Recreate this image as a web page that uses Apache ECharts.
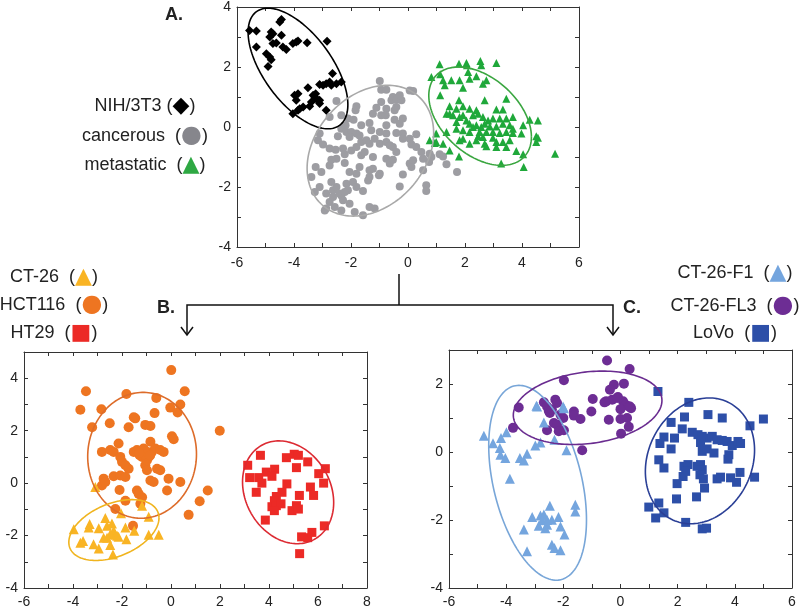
<!DOCTYPE html>
<html>
<head>
<meta charset="utf-8">
<script src="https://cdn.jsdelivr.net/npm/echarts@6/dist/echarts.min.js"></script>
<style>html,body{margin:0;padding:0;background:#fff}#c{width:800px;height:610px}</style>
</head>
<body>
<div id="c"></div>
<script>
// ---------- Panel A data ----------
const nih3t3 = [[-5.56,3.22],[-5.32,3.2],[-4.44,3.58],[-4.5,3.5],[-4.8,3.17],[-4.74,3.11],[-4.85,3.0],[-4.44,3.06],[-5.32,2.67],[-4.74,2.78],[-4.62,2.8],[-4.39,2.67],[-4.27,2.58],[-4.04,2.78],[-3.92,2.83],[-3.86,2.87],[-3.54,2.81],[-2.84,2.86],[-4.97,2.44],[-4.85,2.33],[-4.8,2.24],[-4.91,2.02],[-2.65,1.78],[-2.34,1.5],[-2.87,1.44],[-2.75,1.5],[-3.1,1.42],[-2.98,1.39],[-3.51,1.31],[-3.98,1.06],[-3.86,1.11],[-3.33,1.06],[-3.27,1.0],[-3.19,0.91],[-3.1,0.89],[-3.39,0.83],[-3.1,0.78],[-3.68,0.67],[-4.04,0.44],[-2.87,0.56],[-3.86,0.56],[-3.8,0.61],[-3.45,0.69],[-2.69,1.39],[-2.51,1.44],[-3.92,0.89],[-3.24,1.11]];
const cancerous = [[-0.99,1.53],[-0.94,1.24],[-0.76,1.24],[0.06,1.22],[0.18,1.2],[-0.53,1.0],[-0.58,0.89],[-0.41,0.91],[-2.51,0.87],[-1.81,0.69],[-1.11,0.64],[-0.76,0.61],[-0.41,0.67],[-0.47,0.56],[-2.75,0.33],[-2.34,0.39],[-2.11,0.28],[-1.91,0.24],[-1.84,0.56],[-1.23,0.44],[-0.94,0.39],[-0.78,0.39],[-0.47,0.24],[-0.29,0.11],[-0.18,0.28],[-0.76,0.06],[-1.35,0.13],[-1.64,0.06],[-2.19,0.06],[-2.34,-0.06],[-2.16,-0.17],[-1.99,-0.17],[-1.81,-0.22],[-1.7,-0.28],[-2.05,-0.33],[-2.46,-0.31],[-3.1,-0.22],[-3.16,-0.44],[-2.98,-0.58],[-2.75,-0.72],[-2.54,-0.76],[-2.28,-0.72],[-2.22,-0.91],[-1.99,-0.78],[-1.81,-0.67],[-1.64,-0.5],[-1.46,-0.44],[-1.35,-0.56],[-1.17,-0.39],[-0.99,-0.56],[-0.76,-0.5],[-0.64,-0.61],[-0.53,-0.67],[-0.41,-0.2],[-0.18,-0.22],[-0.18,-0.39],[0.12,-0.58],[0.29,-0.67],[0.47,-0.83],[0.76,-0.89],[0.82,-1.0],[0.74,-1.17],[0.53,-1.06],[1.11,-0.91],[1.23,-0.98],[1.35,-1.24],[1.72,-1.5],[0.06,-1.22],[0.12,-1.33],[-0.76,-1.06],[-0.64,-1.22],[-0.53,-1.09],[-0.99,-1.56],[-1.35,-1.44],[-1.23,-1.39],[-1.7,-1.33],[-1.81,-1.56],[-2.05,-1.5],[-2.22,-1.2],[-2.51,-1.06],[-2.75,-1.28],[-2.69,-1.09],[-3.24,-1.33],[-3.04,-1.5],[-3.39,-1.67],[-3.27,-2.17],[-2.87,-2.22],[-2.63,-2.11],[-2.51,-2.0],[-2.16,-1.89],[-2.11,-2.11],[-1.93,-1.83],[-1.81,-2.0],[-1.58,-2.13],[-1.35,-1.67],[-1.4,-1.78],[-1.02,-1.61],[-0.29,-1.98],[-0.18,-1.58],[0.64,-1.94],[0.64,-2.13],[0.53,-1.44],[-2.75,-2.5],[-2.87,-2.72],[-2.92,-2.78],[-2.57,-2.67],[-2.34,-2.78],[-2.05,-2.56],[-2.28,-2.44],[-2.34,-2.28],[-2.63,-2.33],[-2.4,-2.22],[-2.22,-2.17],[-1.87,-2.83],[-1.58,-2.94],[-1.35,-2.67],[-1.17,-2.72],[-2.69,-1.83],[-1.64,-0.94],[-1.52,-0.83],[-1.23,-1.0],[-3.1,-2.0],[-0.41,-0.83],[-0.76,-0.22],[-0.99,-0.17],[0.06,-0.39],[0.18,-1.11],[-0.94,0.83],[-0.23,0.89],[-0.29,1.06],[0.29,-0.24],[-1.29,-0.11]];
const metastatic = [[1.11,2.09],[1.79,2.11],[2.05,2.13],[2.07,2.06],[2.54,2.2],[2.57,2.06],[3.1,2.13],[0.82,1.67],[1.13,1.76],[1.23,1.56],[1.29,1.39],[1.13,1.06],[1.52,1.56],[1.81,1.56],[2.11,1.83],[2.16,1.61],[2.4,1.69],[2.75,1.56],[2.63,1.44],[1.93,1.31],[2.69,0.89],[3.45,0.94],[3.1,0.58],[3.33,0.58],[1.79,0.89],[1.93,0.69],[2.16,0.61],[2.4,0.56],[1.35,0.44],[1.46,0.44],[1.58,0.39],[1.81,0.33],[1.93,0.39],[2.05,0.22],[2.28,0.39],[2.46,0.44],[2.63,0.33],[2.81,0.22],[2.98,0.28],[3.22,0.28],[3.45,0.28],[3.68,0.33],[1.7,0.17],[2.16,0.11],[2.4,0.06],[2.57,0],[2.69,0.11],[2.87,0.02],[3.1,0.02],[3.33,0.11],[3.57,0.06],[3.68,-0.06],[4.04,0.06],[4.27,0.24],[4.56,0.22],[0.99,-0.22],[1.35,-0.17],[1.7,-0.06],[1.93,-0.11],[2.16,-0.17],[2.28,0],[2.51,-0.17],[2.75,-0.17],[2.98,-0.17],[3.22,-0.2],[3.45,-0.17],[3.68,-0.2],[3.98,-0.22],[4.5,-0.31],[0.94,-0.53],[1.23,-0.56],[1.46,-0.78],[1.81,-0.44],[1.93,-0.39],[2.16,-0.56],[2.4,-0.44],[2.69,-0.56],[2.75,-0.64],[2.98,-0.36],[3.1,-0.5],[3.33,-0.5],[3.57,-0.44],[3.8,-0.8],[4.04,-0.91],[4.5,-0.5],[4.56,-0.36],[5.16,-0.89],[1.79,-0.98],[3.27,-1.22],[4.06,-1.33],[0.76,-0.44],[0.99,-0.5],[1.46,0.69],[1.7,0.61],[2.46,-0.31],[2.63,-0.33],[3.1,-0.67],[3.45,-0.67]];
// ellipse parameters: [centerX, centerY, halfWidthX, halfHeightY, correlation]
const ellipsesA = [[-3.86,1.95,1.75,2.01,-0.6],[-1.32,-0.79,2.22,2.18,0.27],[2.53,0.36,1.80,1.64,-0.42]];

// ---------- Panel B data ----------
const ct26 = [[-3.97,-1.76],[-3.32,-1.56],[-3.36,-1.69],[-2.95,-1.72],[-2.68,-1.33],[-2.61,-1.63],[-2.41,-1.54],[-2.34,-1.82],[-2.27,-1.97],[-2.14,-2.05],[-2.48,-1.95],[-2.61,-2.08],[-3.59,-2.21],[-3.7,-2.27],[-3.16,-2.33],[-2.95,-2.49],[-2.48,-2.36],[-2.37,-2.72],[-1.86,-1.69],[-1.82,-2.14],[-1.5,-1.82],[-0.91,-1.97],[-0.5,-1.97],[-0.91,-1.28],[-2.04,-1.15],[-1.18,-0.86],[-3.09,-0.15],[-2.2,-2.01],[-2.75,-2.08]];
const hct116 = [[0.01,4.31],[-3.47,3.5],[-1.82,3.4],[-0.6,3.25],[0.56,3.5],[-3.7,2.8],[-2.84,2.82],[-0.03,2.88],[0.38,3.0],[-0.67,2.67],[0.27,2.69],[-1.46,2.47],[-1.52,2.51],[-3.22,2.13],[-2.5,2.28],[-1.73,2.13],[-1.05,2.22],[-0.84,2.18],[1.99,2.0],[0.04,1.79],[0.11,1.67],[-0.84,1.58],[-2.14,1.51],[-2.82,1.19],[-2.48,1.26],[-2.34,1.19],[-2.07,1.0],[-2.0,0.81],[-1.86,0.68],[-1.73,0.55],[-1.52,1.19],[-1.39,1.26],[-1.25,1.19],[-1.12,1.32],[-0.98,1.13],[-1.18,1.0],[-0.91,1.0],[-0.78,1.19],[-0.64,1.32],[-0.44,1.26],[-0.3,1.19],[-1.05,0.68],[-0.98,0.49],[-0.57,0.55],[-0.44,0.49],[-1.28,1.06],[-0.98,0.87],[-2.34,0.26],[-2.75,0.17],[-2.82,-0.09],[-2.68,0.04],[-2.07,0.29],[-1.86,0.23],[-0.84,0.1],[-0.71,0.04],[-0.1,0.17],[0.38,0.04],[-0.16,-0.28],[-2.1,-0.26],[-1.86,-0.67],[-1.39,-0.28],[-1.32,-0.41],[-1.18,-0.54],[-1.25,-0.79],[-2.27,-0.99],[1.17,-0.69],[1.5,-0.28],[0.72,-1.21],[-1.55,-1.63],[-1.1,1.1],[-1.0,1.2],[-1.3,1.15],[-0.85,1.05]];
const ht29 = [[3.13,0.68],[3.21,0.21],[3.65,1.06],[3.58,0.21],[3.71,0],[3.48,-0.35],[3.89,0.42],[4.23,0.53],[4.12,0.26],[4.71,0.97],[5.03,1.1],[5.2,1.06],[5.12,0.59],[5.58,0.81],[6.03,0.36],[6.3,0.55],[6.23,0],[4.73,-0.03],[4.53,-0.35],[4.3,-0.51],[4.22,-0.67],[4.12,-0.9],[4.3,-0.86],[4.49,-0.79],[4.22,-1.05],[4.94,-1.05],[5.12,-0.86],[5.2,-0.99],[5.24,-0.47],[5.69,-0.15],[5.82,-0.47],[3.85,-1.41],[6.26,-1.63],[5.33,-2.05],[5.58,-2.08],[5.75,-1.88],[5.25,-2.69]];
const ellipsesB = [[-1.18,1.06,2.22,2.40,0.02],[-2.33,-1.79,1.84,1.16,0.40],[4.78,-0.35,1.86,1.96,-0.20]];

// ---------- Panel C data ----------
const ct26f1 = [[-4.78,0.48],[-4.46,0.26],[-4.22,0.12],[-4.18,0.41],[-3.99,0.58],[-4.2,-0.08],[-4.03,-0.18],[-3.52,-0.18],[-3.38,-0.25],[-3.27,-0.05],[-2.98,0.19],[-2.8,0.28],[-2.31,0.36],[-1.89,0.05],[-3.87,-0.79],[-2.94,1.36],[-2.68,0.87],[-2.01,1.34],[-2.92,1.34],[-1.98,1.29],[-2.47,-1.58],[-3.09,-1.91],[-2.8,-1.87],[-2.68,-1.84],[-2.74,-2.01],[-2.86,-2.17],[-2.57,-2.14],[-2.63,-2.24],[-2.4,-1.99],[-2.17,-1.91],[-2.1,-2.19],[-1.96,-2.43],[-3.38,-2.28],[-3.27,-2.92],[-2.4,-2.73],[-2.31,-2.82],[-2.1,-2.89],[-1.58,-1.55],[-1.58,-1.75],[-2.57,-2.0]];
const ct26fl3 = [[-0.47,2.69],[0.32,2.44],[-1.98,2.11],[-0.23,1.98],[0.12,2.01],[-0.37,1.83],[-0.09,1.62],[-0.5,1.49],[-0.29,1.54],[0.09,1.49],[0.18,1.39],[0,1.26],[0.29,1.34],[0.37,1.29],[-0.97,1.56],[-1.02,1.19],[-2.28,1.54],[-2.22,1.44],[-2.68,1.46],[-2.57,1.34],[-2.51,1.21],[-3.56,1.31],[-1.63,1.19],[-3.76,0.71],[-2.47,1.15],[-2.57,0.64],[-2.33,0.85],[-2.22,0.8],[-2.1,1.1],[-2.16,0.61],[-1.98,0.64],[-1.63,1.07],[-1.4,0.97],[-0.56,1.46],[-0.12,1.59],[0.33,1.34],[-0.41,0.95],[0,0.97],[0.23,1.0],[0.29,0.74],[0.02,0.54],[-1.34,0.05],[-2.4,1.25],[-2.0,1.0]];
const lovo = [[1.31,1.78],[2.39,1.46],[2.24,1.03],[3.06,1.1],[3.56,1.0],[4.53,0.77],[5.0,0.97],[1.77,0.87],[2.16,0.68],[2.51,0.58],[1.52,0.44],[1.89,0.41],[1.38,0.25],[1.77,0.09],[2.71,0.51],[2.86,0.46],[3.03,0.41],[3.21,0.46],[3.38,0.36],[3.56,0.34],[3.73,0.31],[3.91,0.19],[4.11,0.31],[4.2,0.25],[2.8,0.28],[2.86,0.02],[3.03,0.09],[3.27,-0.03],[3.79,-0.08],[3.76,-0.21],[1.34,-0.23],[1.52,-0.47],[2.22,-0.42],[2.36,-0.37],[2.28,-0.57],[2.19,-0.72],[1.98,-0.93],[2.68,-0.42],[2.8,-0.37],[2.86,-0.52],[2.78,-0.67],[2.9,-0.79],[2.94,-1.06],[3.38,-0.79],[3.5,-0.74],[3.85,-0.76],[4.06,-0.89],[4.18,-0.6],[4.69,-0.74],[0.99,-1.62],[1.34,-1.5],[1.23,-1.94],[1.52,-1.79],[1.96,-1.38],[2.66,-1.32],[2.28,-2.07],[2.86,-2.26],[3.01,-2.24]];
const ellipsesC = [[-2.9,-0.905,1.71,2.865,-0.38],[-1.15,1.3,2.6,1.08,0.2],[2.78,-0.26,1.91,1.85,0.17]];

// axis ranges [xmin, xmax, ymin, ymax]
const rangeA = [-6, 6, -4, 4];
const rangeB = [-6, 8, -4, 5];
const rangeC = [-6, 6, -4, 3];

// legend labels
const labelsA = ['NIH/3T3 ', 'cancerous  ', 'metastatic  '];
const labelsB = ['CT-26  ', 'HCT116  ', 'HT29  '];
const labelsC = ['CT-26-F1  ', 'CT-26-FL3  ', 'LoVo  '];
const panelTitles = ['A.', 'B.', 'C.'];

const FONT = '"Liberation Sans", Arial, Helvetica, sans-serif';
const chart = echarts.init(document.getElementById('c'), null, {renderer: 'canvas'});

const grids = [
  {left: 237, top: 7, width: 342, height: 240},
  {left: 24, top: 352, width: 343, height: 236},
  {left: 449, top: 350, width: 343, height: 238}
];
const ranges = [rangeA, rangeB, rangeC];
const xAxes = [], yAxes = [];
const lineStyle = {color: '#333', width: 1};
ranges.forEach((r, g) => {
  ['bottom', 'top'].forEach((pos, k) => {
    xAxes.push({gridIndex: g, type: 'value', position: pos, min: r[0], max: r[1], interval: 1,
      axisLine: {show: true, onZero: false, lineStyle},
      axisTick: {show: true, inside: true, length: 4, lineStyle},
      axisLabel: {show: k === 0, margin: g === 0 ? 9 : 7, fontSize: 14, color: '#222', fontFamily: FONT,
        formatter: v => (Math.round(v) % 2 === 0 ? String(Math.round(v)) : '')},
      splitLine: {show: false}});
  });
  ['left', 'right'].forEach((pos, k) => {
    yAxes.push({gridIndex: g, type: 'value', position: pos, min: r[2], max: r[3], interval: 1,
      axisLine: {show: true, onZero: false, lineStyle},
      axisTick: {show: true, inside: true, length: 4, lineStyle},
      axisLabel: {show: k === 0, margin: 6, fontSize: 14, color: '#222', fontFamily: FONT,
        formatter: v => (Math.round(v) % 2 === 0 ? String(Math.round(v)) : '')},
      splitLine: {show: false}});
  });
});

function scatter(g, data, symbol, size, color) {
  return {type: 'scatter', xAxisIndex: 2 * g, yAxisIndex: 2 * g, data, symbol, symbolSize: size,
    itemStyle: {color, opacity: 1}, silent: true, z: 2};
}
function ellipses(g, data, colors) {
  return {type: 'custom', xAxisIndex: 2 * g, yAxisIndex: 2 * g, data, silent: true, z: 3,
    renderItem: (params, api) => {
      const cx = api.value(0), cy = api.value(1), wx = api.value(2), wy = api.value(3), r = api.value(4);
      const s = Math.sqrt(1 - r * r);
      const pts = [];
      for (let i = 0; i <= 160; i++) {
        const t = i / 160 * 2 * Math.PI;
        pts.push(api.coord([cx + wx * Math.cos(t), cy + wy * (r * Math.cos(t) - s * Math.sin(t))]));
      }
      return {type: 'polyline', shape: {points: pts}, style: {fill: 'none', stroke: colors[params.dataIndex], lineWidth: 1.6}};
    }};
}

const series = [
  scatter(0, cancerous, 'circle', 8, '#9d9da2'),
  scatter(0, nih3t3, 'diamond', [9, 9], '#000000'),
  scatter(0, metastatic, 'triangle', 8, '#1fa83a'),
  ellipses(0, ellipsesA, ['#000000', '#a9a9a9', '#3aa640']),
  scatter(1, hct116, 'circle', 10, '#ee7521'),
  scatter(1, ct26, 'triangle', 10, '#f9b424'),
  scatter(1, ht29, 'rect', 9, '#ec2a26'),
  ellipses(1, ellipsesB, ['#dd6c2a', '#f0b41e', '#dc2a32']),
  scatter(2, ct26fl3, 'circle', 10, '#6d2d94'),
  scatter(2, ct26f1, 'triangle', 10, '#74a5de'),
  scatter(2, lovo, 'rect', 9, '#2d4fa8'),
  ellipses(2, ellipsesC, ['#78a6d8', '#6a2c90', '#2a3f96'])
];

function legendText(x, y, label, sym, color, align, symSize) {
  return {type: 'text', x, y, silent: true, style: {
    text: '{t|' + label + '(}{s|' + sym + '}{t|)}', align, verticalAlign: 'middle',
    rich: {t: {fontSize: 18, fontFamily: FONT, fill: '#222', verticalAlign: 'middle'},
           s: {fontSize: symSize, fontFamily: '"DejaVu Sans"', fill: color, verticalAlign: 'middle'}}}};
}
const graphics = [
  {type: 'text', x: 165, y: 15, silent: true, style: {text: panelTitles[0], fontSize: 18, fontWeight: 'bold', fontFamily: FONT, fill: '#222', verticalAlign: 'middle'}},
  {type: 'text', x: 157, y: 308, silent: true, style: {text: panelTitles[1], fontSize: 18, fontWeight: 'bold', fontFamily: FONT, fill: '#222', verticalAlign: 'middle'}},
  {type: 'text', x: 623, y: 308, silent: true, style: {text: panelTitles[2], fontSize: 18, fontWeight: 'bold', fontFamily: FONT, fill: '#222', verticalAlign: 'middle'}},
  legendText(145, 106, labelsA[0], '◆', '#000', 'center', 22),
  legendText(145, 136, labelsA[1], '●', '#86868c', 'center', 24),
  legendText(145, 165, labelsA[2], '▲', '#2ea843', 'center', 22),
  legendText(54, 277, labelsB[0], '▲', '#f9b424', 'center', 22),
  legendText(54, 305, labelsB[1], '●', '#ee7521', 'center', 24),
  legendText(54, 333, labelsB[2], '■', '#ec2a26', 'center', 22),
  legendText(735, 273, labelsC[0], '▲', '#74a5de', 'center', 22),
  legendText(735, 306, labelsC[1], '●', '#6d2d94', 'center', 24),
  legendText(735, 333, labelsC[2], '■', '#2d4fa8', 'center', 22),
  {type: 'polyline', silent: true, shape: {points: [[399, 274], [399, 305]]}, style: {stroke: '#111', lineWidth: 1.5, fill: 'none'}},
  {type: 'polyline', silent: true, shape: {points: [[187, 335], [187, 305], [613, 305], [613, 335]]}, style: {stroke: '#111', lineWidth: 1.5, fill: 'none'}},
  {type: 'polyline', silent: true, shape: {points: [[181, 327], [187, 335], [193, 327]]}, style: {stroke: '#111', lineWidth: 1.5, fill: 'none'}},
  {type: 'polyline', silent: true, shape: {points: [[607, 327], [613, 335], [619, 327]]}, style: {stroke: '#111', lineWidth: 1.5, fill: 'none'}}
];

chart.setOption({
  animation: false,
  backgroundColor: '#fff',
  textStyle: {fontFamily: FONT},
  grid: grids,
  xAxis: xAxes,
  yAxis: yAxes,
  series,
  graphic: graphics
});
</script>
</body>
</html>
